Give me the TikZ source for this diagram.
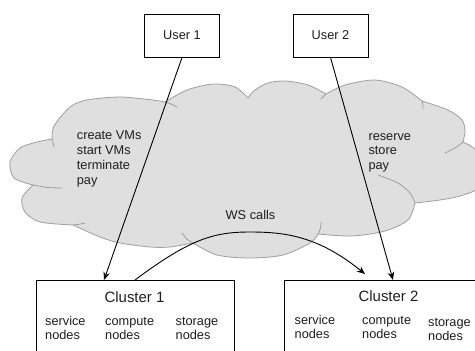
\documentclass[tikz,border=0pt]{standalone}
\usepackage{fontspec}
\setmainfont{Liberation Sans}
\usetikzlibrary{arrows.meta,calc}
\definecolor{cloudfill}{RGB}{223,223,223}
\definecolor{cloudline}{RGB}{158,158,158}
\definecolor{ink}{RGB}{30,30,30}
\begin{document}
\begin{tikzpicture}[x=1bp,y=-1bp,
  cloudshape/.style={fill=cloudfill,draw=cloudline,line width=0.8bp,line join=round},
  cloudstub/.style={draw=cloudline,line width=0.8bp,line cap=round},
  box/.style={draw=black,line width=1bp,fill=white,inner sep=0pt},
  lbl/.style={text=ink,font=\fontsize{12.8}{15}\selectfont,inner sep=0pt},
  sublbl/.style={text=ink,font=\fontsize{12.8}{14.3}\selectfont,inner sep=0pt,anchor=base west},
  ttl/.style={text=ink,font=\fontsize{15}{18}\selectfont,inner sep=0pt,anchor=base},
  conn/.style={draw=black,line width=0.9bp,-{Stealth[length=8bp,width=6.5bp,inset=2.5bp]}}]
\useasboundingbox (0,0) rectangle (475,350);

% cloud
\path[cloudshape] plot[smooth] coordinates {(52,139) (54,126) (70,107) (87,100) (120,97) (153,100) (165,102)}
 -- plot[smooth] coordinates {(165,102) (187,90) (213,84) (235,87) (248,98)}
 -- plot[smooth] coordinates {(248,98) (255,90) (268,83) (285,81) (308,85) (326,94)}
 -- plot[smooth] coordinates {(326,94) (345,85) (375,80) (402,87) (422,101)}
 -- plot[smooth] coordinates {(422,101) (448,110) (462,120) (465,131) (463,142)}
 -- plot[smooth] coordinates {(463,142) (476,150) (484,168) (478,188) (460,196) (440,200) (415,203)}
 -- plot[smooth] coordinates {(415,203) (408,220) (385,231) (352,236) (318,234)}
 -- plot[smooth] coordinates {(318,234) (310,243) (283,255) (250,258) (217,255) (193,243)}
 -- plot[smooth] coordinates {(193,243) (170,247) (150,247) (120,243) (100,237) (73,225)}
 -- plot[smooth] coordinates {(73,225) (40,222) (25,212) (22,198) (33,185)}
 -- plot[smooth] coordinates {(33,185) (14,178) (10,162) (20,148) (37,142) (52,139)}
 -- cycle;
\draw[cloudstub] plot[smooth] coordinates {(33,185) (48,187.5) (62,188)};
\draw[cloudstub] plot[smooth] coordinates {(73,225) (79,224.3) (85,223)};
\draw[cloudstub] plot[smooth] coordinates {(182,233) (187,239) (193,243)};
\draw[cloudstub] plot[smooth] coordinates {(318,234) (320.5,228) (321,222)};
\draw[cloudstub] plot[smooth] coordinates {(378,175) (398,183) (410,193) (415,203)};
\draw[cloudstub] plot[smooth] coordinates {(445,153) (455,148) (463,142)};
\draw[cloudstub] plot[smooth] coordinates {(326,94) (323.5,96.5) (321,99)};
\draw[cloudstub] plot[smooth] coordinates {(165,102) (171,104) (177,107)};
\draw[cloudstub] plot[smooth] coordinates {(52,139) (53,143) (54,147)};
\draw[cloudstub] plot[smooth] coordinates {(422,101) (423,105) (423,109)};

% cloud texts
\node[lbl,anchor=base west] (ops1) at (76.7,139.3)
  {\begin{tabular}[t]{@{}l@{}}create VMs\\start VMs\\terminate\\pay\end{tabular}};
\node[lbl,anchor=base west] (ops2) at (368.3,140)
  {\begin{tabular}[t]{@{}l@{}}reserve\\store\\pay\end{tabular}};
\node[lbl,anchor=base] (ws) at (250.5,219.3) {WS calls};

% users
\node[box,lbl,draw=black,minimum width=75bp,minimum height=43bp] (u1) at (182,35.5) {User 1};
\node[box,lbl,draw=black,minimum width=75bp,minimum height=43bp] (u2) at (330.5,35.5) {User 2};

% clusters
\node[box,anchor=north west,minimum width=198bp,minimum height=100bp] (c1) at (36,280) {};
\node[box,anchor=north west,minimum width=215bp,minimum height=100bp] (c2) at (284,280) {};
\node[ttl] (t1) at (134.5,302.3) {Cluster 1};
\node[ttl] (t2) at (388.5,301.3) {Cluster 2};
\node[sublbl] (s1) at (45,325) {\begin{tabular}[t]{@{}l@{}}service\\nodes\end{tabular}};
\node[sublbl] (p1) at (105,325) {\begin{tabular}[t]{@{}l@{}}compute\\nodes\end{tabular}};
\node[sublbl] (g1) at (175.5,325) {\begin{tabular}[t]{@{}l@{}}storage\\nodes\end{tabular}};
\node[sublbl] (s2) at (294.5,324.3) {\begin{tabular}[t]{@{}l@{}}service\\nodes\end{tabular}};
\node[sublbl] (p2) at (362,324.3) {\begin{tabular}[t]{@{}l@{}}compute\\nodes\end{tabular}};
\node[sublbl] (g2) at (428,326) {\begin{tabular}[t]{@{}l@{}}storage\\nodes\end{tabular}};

% connectors
\draw[conn] (u1.south) -- ($(c1.north west)+(68,0)$);
\draw[conn] (u2.south) -- ($(c2.north west)+(109,0)$);
\draw[conn] ($(c1.north west)+(99,0)$) .. controls (191,238) and (215,232) .. (250,232)
  .. controls (285,232) and (318,236) .. ($(c2.north west)+(81,-6)$);
\end{tikzpicture}
\end{document}
